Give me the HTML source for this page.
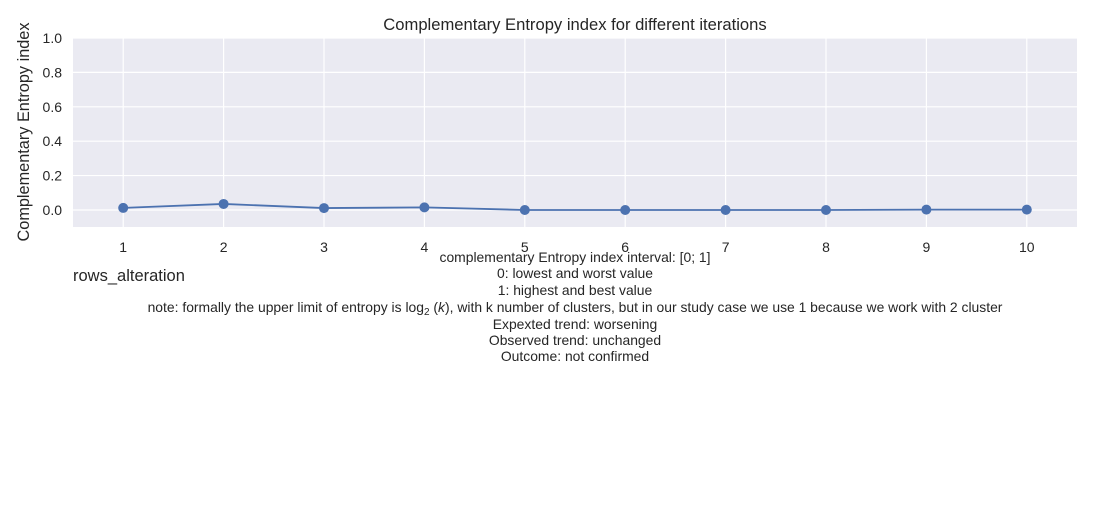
<!DOCTYPE html>
<html><head><meta charset="utf-8">
<style>
body{margin:0;background:#fff;font-family:"Liberation Sans","DejaVu Sans",sans-serif;}
svg text{font-family:"Liberation Sans","DejaVu Sans",sans-serif;fill:#262626;}
</style></head>
<body>
<svg id="chart" width="1100" height="500" xmlns="http://www.w3.org/2000/svg">
<rect x="0" y="0" width="1100" height="500" fill="#fff"/>
<text x="575" y="30" font-size="16.6" text-anchor="middle">Complementary Entropy index for different iterations</text>
<rect x="73" y="38" width="1004" height="189" fill="#eaeaf2"/>
<g id="grid"></g>
<g id="ticks"></g>
<g id="series"></g>
<text transform="translate(29,132) rotate(-90)" font-size="16.3" text-anchor="middle">Complementary Entropy index</text>
<text x="73" y="281" font-size="16.5">rows_alteration</text>
<g font-size="13.9" text-anchor="middle">
<text x="575" y="262">complementary Entropy index interval: [0; 1]</text>
<text x="575" y="278">0: lowest and worst value</text>
<text x="575" y="295">1: highest and best value</text>
<text x="575" y="312">note: formally the upper limit of entropy is log<tspan font-size="10" dy="3">2</tspan><tspan dy="-3"> (</tspan><tspan font-style="italic">k</tspan>), with k number of clusters, but in our study case we use 1 because we work with 2 cluster</text>
<text x="575" y="329">Expexted trend: worsening</text>
<text x="575" y="345">Observed trend: unchanged</text>
<text x="575" y="361">Outcome: not confirmed</text>
</g>
</svg>
<script>
const categories=[1,2,3,4,5,6,7,8,9,10];
const values=[0.012,0.035,0.011,0.015,0.0,0.0,0.0,0.0,0.002,0.002];
const yTicks=[0.0,0.2,0.4,0.6,0.8,1.0];
const yTickLabels=["0.0","0.2","0.4","0.6","0.8","1.0"];
const NS="http://www.w3.org/2000/svg";
const X0=73,X1=1077,Y0=227,Y1=38,xmin=0.5,xmax=10.5,ymin=-0.099,ymax=1.0;
function xs(v){return X0+(v-xmin)/(xmax-xmin)*(X1-X0);}
function ys(v){return Y0-(v-ymin)/(ymax-ymin)*(Y0-Y1);}
function mk(tag,attrs,parent){const e=document.createElementNS(NS,tag);for(const k in attrs)e.setAttribute(k,attrs[k]);parent.appendChild(e);return e;}
const grid=document.getElementById('grid'),ticks=document.getElementById('ticks'),series=document.getElementById('series');
yTicks.forEach((t,i)=>{
 const l=mk('line',{x1:X0,x2:X1,y1:ys(t),y2:ys(t),stroke:'#fff','stroke-width':1.2},grid);
 
 
 const tx=mk('text',{x:62,y:ys(t)+5,'font-size':14,'text-anchor':'end'},ticks);
 tx.textContent=yTickLabels[i];
 
 
});
categories.forEach(c=>{
 const l=mk('line',{x1:xs(c),x2:xs(c),y1:Y1,y2:Y0,stroke:'#fff','stroke-width':1.2},grid);
 
 
 const tx=mk('text',{x:xs(c),y:252,'font-size':14,'text-anchor':'middle'},ticks);
 tx.textContent=String(c);
 
 
});
const pts=categories.map((c,i)=>xs(c)+','+ys(values[i])).join(' ');
const pl=mk('polyline',{points:pts,fill:'none',stroke:'#4c72b0','stroke-width':1.8},series);


categories.forEach((c,i)=>{
 const p=mk('circle',{cx:xs(c),cy:ys(values[i]),r:5,fill:'#4c72b0'},series);
 
 
});
</script>
</body></html>
